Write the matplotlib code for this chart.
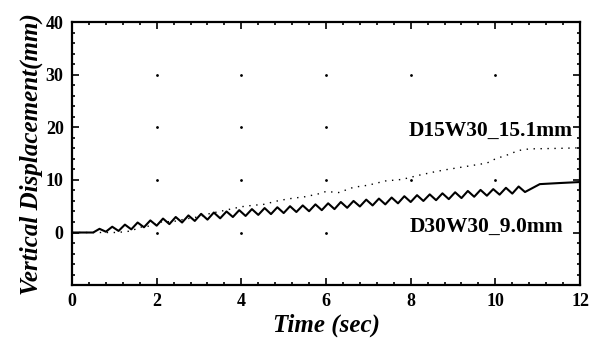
import matplotlib
matplotlib.use('Agg')
from matplotlib import pyplot as plt
from matplotlib.ticker import MultipleLocator
import numpy as np

plt.rcParams['font.family'] = ['Liberation Serif', 'DejaVu Serif']

# D30W30 (solid line): time (sec) and displacement (mm)
t_d30 = [0.0, 0.50, 0.65, 0.80, 0.95, 1.10, 1.25, 1.40, 1.55, 1.70, 1.85,
         2.00, 2.15, 2.30, 2.45, 2.60, 2.75, 2.90, 3.05, 3.20, 3.35,
         3.50, 3.65, 3.80, 3.95, 4.10, 4.25, 4.40, 4.55, 4.70, 4.85,
         5.00, 5.15, 5.30, 5.45, 5.60, 5.75, 5.90, 6.05, 6.20, 6.35,
         6.50, 6.65, 6.80, 6.95, 7.10, 7.25, 7.40, 7.55, 7.70, 7.85,
         8.00, 8.15, 8.30, 8.45, 8.60, 8.75, 8.90, 9.05, 9.20, 9.35,
         9.50, 9.65, 9.80, 9.95, 10.10, 10.25, 10.40, 10.55, 10.70,
         11.05, 11.5, 12.0]
d_d30 = [0.0, 0.0, 0.7, 0.15, 1.1, 0.3, 1.5, 0.6, 1.9, 1.0, 2.3,
         1.3, 2.65, 1.6, 2.95, 1.9, 3.25, 2.2, 3.55, 2.45, 3.8,
         2.7, 4.0, 2.95, 4.25, 3.15, 4.45, 3.35, 4.65, 3.5, 4.8,
         3.7, 5.0, 3.9, 5.15, 4.05, 5.35, 4.25, 5.55, 4.45, 5.8,
         4.7, 6.0, 4.95, 6.25, 5.15, 6.45, 5.35, 6.65, 5.55, 6.9,
         5.8, 7.1, 6.0, 7.25, 6.15, 7.45, 6.35, 7.65, 6.55, 7.9,
         6.8, 8.1, 7.0, 8.25, 7.2, 8.5, 7.4, 8.75, 7.7,
         9.2, 9.4, 9.6]

# D15W30 (dotted line)
t_d15 = [0.0, 1.0, 1.2, 1.4, 1.6, 1.8, 2.1, 2.4, 2.7, 3.0, 3.2, 3.6, 4.0,
         4.3, 4.5, 4.9, 5.2, 5.5, 5.8, 6.0, 6.3, 6.65, 7.0, 7.4, 7.8, 8.2,
         8.6, 8.8, 9.8, 10.0, 10.3, 10.55, 10.8, 11.5, 12.0]
d_d15 = [0.0, 0.0, 0.1, 0.3, 1.0, 1.2, 2.0, 2.1, 2.6, 3.0, 3.5, 4.2, 4.9,
         5.2, 5.3, 6.1, 6.5, 6.8, 7.3, 7.8, 7.6, 8.6, 9.0, 9.8, 10.1, 10.9,
         11.6, 11.9, 13.2, 14.0, 14.8, 15.6, 15.9, 16.0, 16.1]

x_ticks = [0, 2, 4, 6, 8, 10, 12]
y_ticks = [0, 10, 20, 30, 40]

fig = plt.figure(figsize=(6.02, 3.46), dpi=100)
ax = fig.add_axes([0.1196, 0.176, 0.8439, 0.760])

# dotted grid: only dots at the major tick crossings
gx, gy = np.meshgrid(x_ticks[1:-1], y_ticks[:-1])
ax.plot(gx.ravel(), gy.ravel(), 'k.', markersize=2, zorder=1)

ax.plot(t_d30, d_d30, color='black', linewidth=1.5, zorder=3)
ax.plot(t_d15, d_d15, color='black', linewidth=1.0,
        linestyle=(0, (1, 4)), zorder=2)

ax.set_xlim(0, 12)
ax.set_ylim(-10, 40)
ax.set_xticks(x_ticks)
ax.set_yticks(y_ticks)
ax.xaxis.set_minor_locator(MultipleLocator(0.4))
ax.yaxis.set_minor_locator(MultipleLocator(2))
ax.tick_params(which='both', direction='in', top=True, right=True,
               labelsize=13, width=1.2)
ax.tick_params(which='major', length=5, pad=6)
ax.tick_params(which='minor', length=2.5)
for lab in ax.get_xticklabels() + ax.get_yticklabels():
    lab.set_fontweight('bold')
for sp in ax.spines.values():
    sp.set_linewidth(1.6)

ax.set_xlabel('Time (sec)', fontsize=18, fontweight='bold', style='italic',
              labelpad=2)
ax.set_ylabel('Vertical Displacement(mm)', fontsize=18, fontweight='bold',
              style='italic', labelpad=2)

box = dict(facecolor='white', edgecolor='none', pad=0.5)
ax.text(11.82, 19.4, 'D15W30_15.1mm', ha='right', va='center',
        fontsize=15.5, fontweight='bold', bbox=box, zorder=4)
ax.text(11.6, 1.1, 'D30W30_9.0mm', ha='right', va='center',
        fontsize=15.5, fontweight='bold', bbox=box, zorder=4)

fig.savefig('out.png', dpi=100)
